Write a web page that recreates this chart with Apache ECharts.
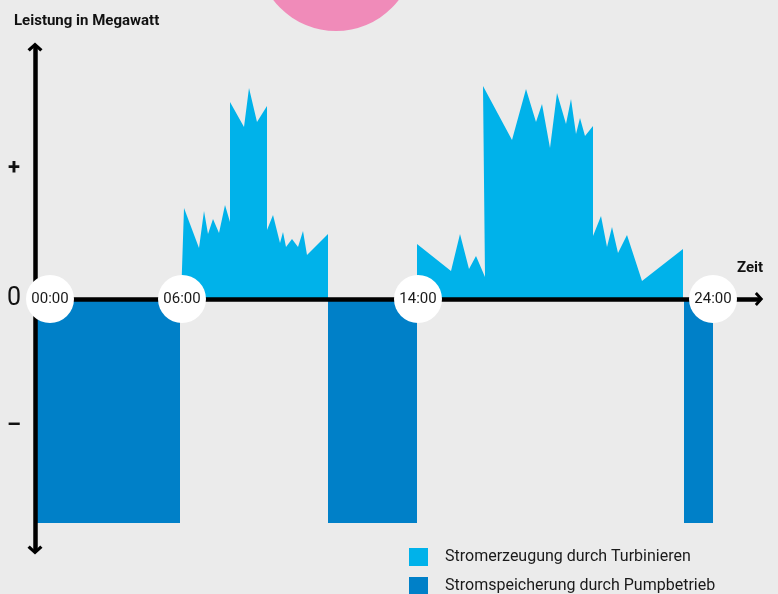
<!DOCTYPE html>
<html>
<head>
<meta charset="utf-8">
<script src="https://cdn.jsdelivr.net/npm/echarts@6/dist/echarts.min.js"></script>
<style>
html, body { margin: 0; padding: 0; background: #ebebeb; }
#chart { width: 778px; height: 594px; }
</style>
</head>
<body>
<div id="chart"></div>
<script>
// schematic time positions (x) and power (y)
var turbineMorningX = [146, 149, 164, 169, 173, 178, 184, 190, 195, 195, 209, 214, 222, 232, 232, 238, 245, 248, 251, 257, 263, 268, 272, 293, 293];
var turbineMorningY = [0, 91, 51, 88, 65, 80, 66, 94, 77, 197, 172, 211, 177, 193, 69, 84, 56, 67, 52, 60, 52, 68, 44, 65, 0];
var turbineEveningX = [382, 382, 416, 425, 434, 441, 450, 448, 477, 491, 501, 507, 515, 522, 531, 536, 541, 545, 550, 558, 558, 566, 572, 577, 583, 592, 607, 648, 648];
var turbineEveningY = [0, 55, 28, 65, 30, 43, 22, 213, 159, 210, 177, 195, 151, 206, 175, 200, 165, 181, 163, 173, 63, 83, 52, 72, 46, 64, 18, 50, 0];
var pumpStart = [2, 293, 649];
var pumpEnd = [145, 382, 678];
var pumpLevel = [-224, -224, -224];
var timeLabels = ['00:00', '06:00', '14:00', '24:00'];
var timeLabelX = [15, 147, 383, 678];
var signLabels = ['–', '0', '+'];
var signValues = [-127, 0, 131];

var turbineName = 'Stromerzeugung durch Turbinieren';
var pumpName = 'Stromspeicherung durch Pumpbetrieb';
var lightBlue = '#00b2ea';
var darkBlue = '#0080c8';

function pairs(xs, ys) {
    var out = [];
    for (var i = 0; i < xs.length; i++) {
        out.push([xs[i], ys[i]]);
    }
    return out;
}

var pumpData = [];
for (var i = 0; i < pumpStart.length; i++) {
    pumpData.push([pumpStart[i], pumpEnd[i], pumpLevel[i]]);
}

var chevron = 'path://M0,9 L10,0 L20,9 L17,12 L10,5.5 L3,12 Z';

var myChart = echarts.init(document.getElementById('chart'));

var option = {
    backgroundColor: '#ebebeb',
    animation: false,
    textStyle: { fontFamily: 'Roboto' },
    title: [
        {
            text: 'Leistung in Megawatt',
            left: 14, top: 14, padding: 0,
            textStyle: { fontSize: 15, fontWeight: 'bold', color: '#111' }
        },
        {
            text: 'Zeit',
            left: 737, top: 261, padding: 0,
            textStyle: { fontSize: 15, fontWeight: 'bold', color: '#111' }
        }
    ],
    graphic: [
        {
            type: 'circle',
            shape: { cx: 336, cy: -48, r: 79 },
            style: { fill: '#f08bb9' },
            z: 1
        }
    ],
    legend: {
        orient: 'vertical',
        left: 409, top: 548, height: 80,
        padding: 0,
        itemWidth: 19, itemHeight: 18, itemGap: 11,
        selectedMode: false,
        data: [
            { name: turbineName, icon: 'rect' },
            { name: pumpName, icon: 'rect' }
        ],
        textStyle: { fontSize: 16, color: '#1a1a1a', padding: [0, 0, 0, 12] }
    },
    grid: { left: 35, top: 47, width: 724, height: 503 },
    xAxis: {
        type: 'value',
        min: 0, max: 724,
        z: 5,
        axisLine: {
            show: true, onZero: true,
            symbol: ['none', chevron], symbolSize: [14, 9],
            lineStyle: { color: '#000', width: 4.5 }
        },
        axisTick: { show: false },
        axisLabel: { show: false },
        splitLine: { show: false }
    },
    yAxis: {
        type: 'value',
        min: -251, max: 252,
        z: 5,
        axisLine: {
            show: true,
            symbol: [chevron, chevron], symbolSize: [16, 9],
            lineStyle: { color: '#000', width: 4.5 }
        },
        axisTick: { show: false },
        splitLine: { show: false },
        axisLabel: {
            show: true,
            customValues: signValues,
            margin: 21, align: 'center',
            color: '#111',
            formatter: function (v) {
                var idx = signValues.indexOf(v);
                var s = signLabels[idx];
                return v === 0 ? '{z|' + s + '}' : '{s|' + s + '}';
            },
            rich: {
                z: { fontSize: 25, color: '#111', fontFamily: 'Roboto' },
                s: { fontSize: 22, color: '#111', fontFamily: 'Roboto', fontWeight: 'bold' }
            }
        }
    },
    series: [
        {
            name: turbineName,
            type: 'line',
            data: pairs(turbineMorningX, turbineMorningY),
            symbol: 'none',
            silent: true,
            itemStyle: { color: lightBlue },
            lineStyle: { width: 0 },
            areaStyle: { color: lightBlue, opacity: 1 },
            z: 2
        },
        {
            name: turbineName,
            type: 'line',
            data: pairs(turbineEveningX, turbineEveningY),
            symbol: 'none',
            silent: true,
            itemStyle: { color: lightBlue },
            lineStyle: { width: 0 },
            areaStyle: { color: lightBlue, opacity: 1 },
            z: 2
        },
        {
            name: pumpName,
            type: 'custom',
            silent: true,
            itemStyle: { color: darkBlue },
            renderItem: function (params, api) {
                var p0 = api.coord([api.value(0), 0]);
                var p1 = api.coord([api.value(1), api.value(2)]);
                return {
                    type: 'rect',
                    shape: { x: p0[0], y: p0[1], width: p1[0] - p0[0], height: p1[1] - p0[1] },
                    style: { fill: darkBlue }
                };
            },
            encode: { x: [0, 1], y: 2 },
            data: pumpData,
            z: 2
        },
        {
            name: 'Uhrzeit',
            type: 'scatter',
            silent: true,
            symbol: 'circle',
            symbolSize: 48,
            itemStyle: { color: '#fff', opacity: 1 },
            label: {
                show: true, position: 'inside',
                fontSize: 15, color: '#1a1a1a',
                formatter: function (p) { return timeLabels[p.dataIndex]; }
            },
            data: pairs(timeLabelX, [0, 0, 0, 0]),
            z: 10
        }
    ]
};

myChart.setOption(option);
</script>
</body>
</html>
